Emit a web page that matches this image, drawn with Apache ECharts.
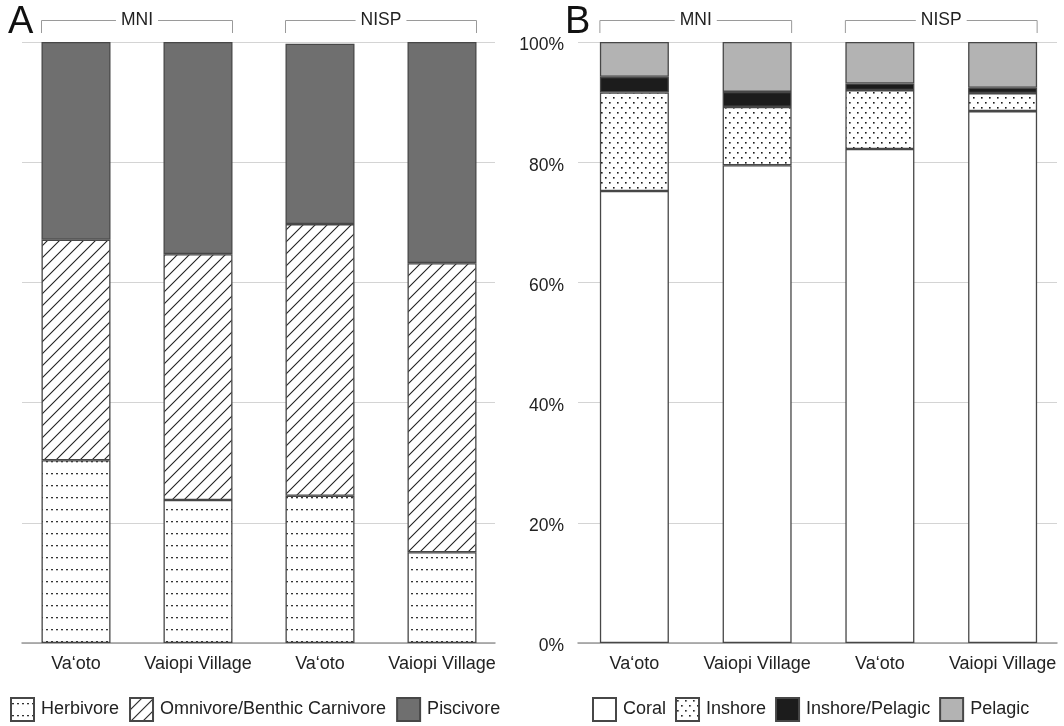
<!DOCTYPE html>
<html>
<head>
<meta charset="utf-8">
<script src="https://cdn.jsdelivr.net/npm/echarts@6/dist/echarts.min.js"></script>
<style>
  html, body { margin: 0; padding: 0; background: #fff; }
  #chart { width: 1064px; height: 726px; }
</style>
</head>
<body>
<div id="chart"></div>
<script>
// Site columns, grouped by counting method
const sites = ['Va‘oto', 'Vaiopi Village', 'Va‘oto', 'Vaiopi Village'];
const groups = ['MNI', 'NISP'];

// Panel A: trophic guilds (% of assemblage)
const herbivore = [30.4, 23.8, 24.5, 15.1];
const omnivore = [36.7, 40.9, 45.2, 48.1];
const piscivore = [32.9, 35.3, 30.0, 36.8];

// Panel B: habitat zones (% of assemblage)
const coral = [75.2, 79.5, 82.2, 88.5];
const inshore = [16.4, 9.7, 9.8, 3.0];
const inshorePelagic = [2.6, 2.5, 1.1, 0.9];
const pelagic = [5.8, 8.3, 6.9, 7.6];

const FONT = '"Liberation Sans", Arial, sans-serif';
const TEXT = '#222';
const EDGE = '#474747';
const BAR_W = 69;

// Small canvas tiles used as fill patterns
function makePattern(w, h, draw) {
  const c = document.createElement('canvas');
  c.width = w; c.height = h;
  const g = c.getContext('2d');
  g.fillStyle = '#fff';
  g.fillRect(0, 0, w, h);
  draw(g);
  return { image: c, repeat: 'repeat' };
}
// rows of fine dots
const herbFill = makePattern(5, 12, g => {
  g.fillStyle = '#333';
  g.fillRect(1, 5, 2, 1.3);
});
// forward diagonal hatching
const omniFill = makePattern(12, 12, g => {
  g.strokeStyle = '#222';
  g.lineWidth = 1.1;
  g.beginPath();
  g.moveTo(-1, 13); g.lineTo(13, -1);
  g.moveTo(-1, 1); g.lineTo(1, -1);
  g.moveTo(11, 13); g.lineTo(13, 11);
  g.stroke();
});
// staggered dot grid
const inshoreFill = makePattern(8, 10, g => {
  g.fillStyle = '#1a1a1a';
  g.fillRect(1, 2, 1.6, 1.6);
  g.fillRect(5, 7, 1.6, 1.6);
});

function barSeries(name, data, color, axis, stack) {
  return {
    name, type: 'bar', stack, data,
    xAxisIndex: axis, yAxisIndex: axis,
    barWidth: BAR_W,
    itemStyle: { color, borderColor: EDGE, borderWidth: 1.3 },
    emphasis: { disabled: true },
    silent: true
  };
}

const catLabel = {
  color: TEXT, fontFamily: FONT, fontSize: 18, margin: 12, interval: 0
};
const legendText = { color: TEXT, fontFamily: FONT, fontSize: 18, padding: [0, 0, 0, 2] };

const chart = echarts.init(document.getElementById('chart'), null, { renderer: 'canvas' });

const option = {
  animation: false,
  backgroundColor: '#fff',
  grid: [
    // 0: panel A bars
    { left: 15, top: 42, width: 488, height: 601 },
    // 1: panel A gridlines
    { left: 22, top: 42, width: 473, height: 601 },
    // 2: panel B bars
    { left: 573, top: 42, width: 493, height: 601 },
    // 3: panel B gridlines and percent scale
    { left: 578, top: 42, width: 479, height: 601 }
  ],
  xAxis: [
    { gridIndex: 0, type: 'category', data: sites, axisLine: { show: false },
      axisTick: { show: false }, axisLabel: catLabel },
    { gridIndex: 1, type: 'value', min: 0, max: 1, axisLine: { show: true, lineStyle: { color: '#999', width: 1.5 } },
      axisTick: { show: false }, axisLabel: { show: false }, splitLine: { show: false } },
    { gridIndex: 2, type: 'category', data: sites, axisLine: { show: false },
      axisTick: { show: false }, axisLabel: catLabel },
    { gridIndex: 3, type: 'value', min: 0, max: 1, axisLine: { show: true, lineStyle: { color: '#999', width: 1.5 } },
      axisTick: { show: false }, axisLabel: { show: false }, splitLine: { show: false } }
  ],
  yAxis: [
    { gridIndex: 0, type: 'value', min: 0, max: 100, show: false },
    { gridIndex: 1, type: 'value', min: 0, max: 100, interval: 20,
      axisLine: { show: false }, axisTick: { show: false }, axisLabel: { show: false },
      splitLine: { show: true, lineStyle: { color: '#d4d4d4', width: 1 } } },
    { gridIndex: 2, type: 'value', min: 0, max: 100, show: false },
    { gridIndex: 3, type: 'value', min: 0, max: 100, interval: 20,
      axisLine: { show: false }, axisTick: { show: false },
      axisLabel: {
        formatter: '{p|{value}%}', margin: 14,
        rich: { p: { color: TEXT, fontFamily: FONT, fontSize: 17.5, padding: [7, 0, 0, 0] } }
      },
      splitLine: { show: true, lineStyle: { color: '#d4d4d4', width: 1 } } }
  ],
  legend: [
    {
      left: 10, top: 697, padding: 0, itemWidth: 23, itemHeight: 23, itemGap: 10,
      icon: 'rect', selectedMode: false,
      data: ['Herbivore', 'Omnivore/Benthic Carnivore', 'Piscivore'],
      textStyle: legendText
    },
    {
      left: 592, top: 697, padding: 0, itemWidth: 23, itemHeight: 23, itemGap: 9,
      icon: 'rect', selectedMode: false,
      data: ['Coral', 'Inshore', 'Inshore/Pelagic', 'Pelagic'],
      textStyle: legendText
    }
  ],
  series: [
    barSeries('Herbivore', herbivore, herbFill, 0, 'A'),
    barSeries('Omnivore/Benthic Carnivore', omnivore, omniFill, 0, 'A'),
    barSeries('Piscivore', piscivore, '#6f6f6f', 0, 'A'),
    barSeries('Coral', coral, '#ffffff', 2, 'B'),
    barSeries('Inshore', inshore, inshoreFill, 2, 'B'),
    barSeries('Inshore/Pelagic', inshorePelagic, '#1c1c1c', 2, 'B'),
    barSeries('Pelagic', pelagic, '#b3b3b3', 2, 'B')
  ]
};
chart.setOption(option);

// Panel letters and bracketed group headers above each pair of columns
function bracket(axis, i0, i1, label) {
  const l = chart.convertToPixel({ xAxisIndex: axis }, i0) - BAR_W / 2;
  const r = chart.convertToPixel({ xAxisIndex: axis }, i1) + BAR_W / 2;
  return [
    { type: 'polyline', silent: true,
      shape: { points: [[l, 33], [l, 20.5], [r, 20.5], [r, 33]] },
      style: { stroke: '#9a9a9a', lineWidth: 1, fill: null } },
    { type: 'text', silent: true, x: (l + r) / 2, y: 20.5,
      style: { text: label, fill: TEXT, font: '17.5px ' + FONT, align: 'center',
               verticalAlign: 'middle', backgroundColor: '#fff', padding: [0, 5] } }
  ];
}
const graphics = [
  { type: 'text', silent: true, x: 8, y: 4,
    style: { text: 'A', fill: '#111', font: '38px ' + FONT } },
  { type: 'text', silent: true, x: 565, y: 4,
    style: { text: 'B', fill: '#111', font: '38px ' + FONT } }
];
[0, 2].forEach(axis => {
  groups.forEach((g, k) => {
    graphics.push(...bracket(axis, 2 * k, 2 * k + 1, g));
  });
});
chart.setOption({ graphic: graphics });
</script>
</body>
</html>
